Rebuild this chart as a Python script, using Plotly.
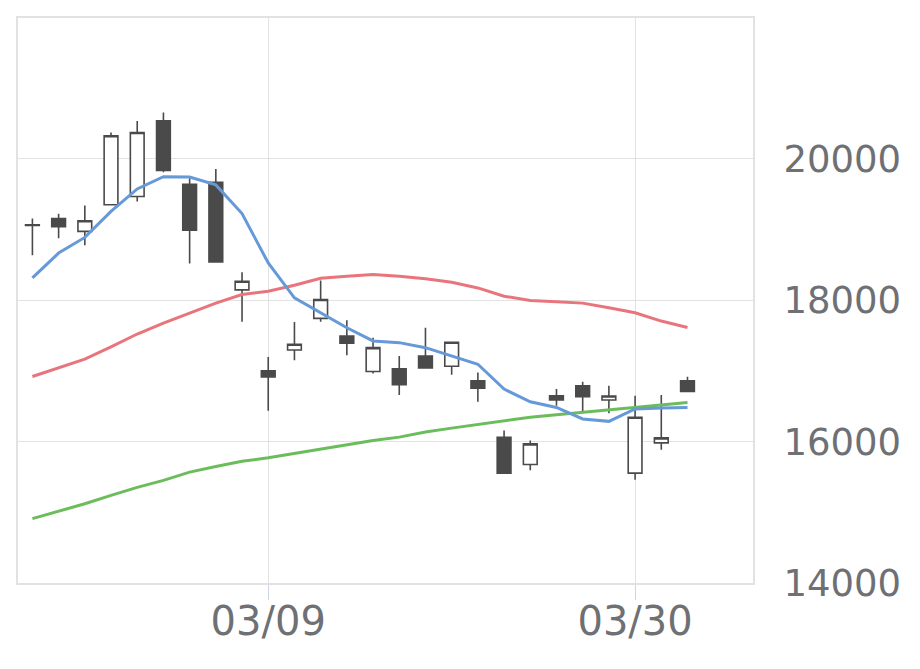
import plotly.graph_objects as go

# trading days (Feb 23 and Mar 20 are holidays)
dates = ["02/24", "02/25", "02/26", "02/27", "03/02", "03/03", "03/04", "03/05",
         "03/06", "03/09", "03/10", "03/11", "03/12", "03/13", "03/16", "03/17",
         "03/18", "03/19", "03/23", "03/24", "03/25", "03/26", "03/27", "03/30",
         "03/31", "04/01"]

opens = [19065, 19155, 18972, 19348, 19465, 20535, 19638, 19666, 18145, 17000,
         17296, 17742, 17493, 16990, 17028, 17211, 17066, 16859, 16061, 15676,
         16648, 16789, 16587, 15554, 15982, 16859]
highs = [19155, 19221, 19338, 20370, 20535, 20652, 19723, 19855, 18394, 17197,
         17690, 18277, 17714, 17469, 17211, 17610, 17404, 16976, 16155, 16014,
         16742, 16845, 16789, 16648, 16658, 16915]
lows = [18634, 18877, 18775, 19340, 19394, 19808, 18517, 18539, 17694, 16437,
        17150, 17694, 17220, 16962, 16658, 17042, 16944, 16563, 15554, 15596,
        16507, 16413, 16399, 15461, 15883, 16708]
closes = [19055, 19038, 19123, 20324, 20370, 19835, 18990, 18539, 18268, 16915,
          17376, 18010, 17390, 17328, 16803, 17042, 17404, 16756, 15554, 15968,
          16587, 16634, 16644, 16343, 16052, 16708]

ma_short = [18314, 18666, 18887, 19254, 19573, 19746, 19742, 19630, 19225, 18525,
            18032, 17821, 17610, 17423, 17399, 17328, 17211, 17094, 16742, 16563,
            16483, 16320, 16286, 16461, 16475, 16483]
ma_mid = [16920, 17042, 17165, 17338, 17521, 17676, 17821, 17958, 18080, 18127,
          18211, 18310, 18338, 18362, 18338, 18303, 18254, 18173, 18056, 17996,
          17979, 17958, 17892, 17821, 17704, 17613]
ma_long = [14911, 15014, 15120, 15239, 15352, 15451, 15568, 15648, 15723, 15770,
           15831, 15894, 15958, 16014, 16063, 16134, 16190, 16239, 16296, 16345,
           16380, 16415, 16451, 16479, 16514, 16554]

x_ticks = ["03/09", "03/30"]
y_ticks = [14000, 16000, 18000, 20000]

CANDLE = "#4a4a4a"
GRID = "#e2e2e2"
TEXT = "#6e7074"

fig = go.Figure()

fig.add_trace(go.Candlestick(
    x=dates, open=opens, high=highs, low=lows, close=closes,
    increasing=dict(line=dict(color=CANDLE, width=1.6), fillcolor="white"),
    decreasing=dict(line=dict(color=CANDLE, width=1.6), fillcolor=CANDLE),
    showlegend=False, hoverinfo="skip",
))

for vals, color in [(ma_mid, "#e8757c"), (ma_long, "#6bbd5b"), (ma_short, "#6699d8")]:
    fig.add_trace(go.Scatter(
        x=dates, y=vals, mode="lines",
        line=dict(color=color, width=3),
        showlegend=False, hoverinfo="skip",
    ))

# page body adds an 8px offset, so margins are trimmed to compensate
fig.update_layout(
    width=920, height=669,
    margin=dict(l=8, r=175, t=8, b=94),
    plot_bgcolor="white",
    paper_bgcolor="white",
    font=dict(family="DejaVu Sans", size=37, color=TEXT),
    boxgap=0.25,
)

fig.update_xaxes(
    type="category",
    categoryorder="array", categoryarray=dates,
    range=[-0.55, 27.5],
    tickvals=x_ticks, ticktext=x_ticks,
    tickfont=dict(size=40),
    ticks="outside", ticklen=15, tickcolor="#ccd6e4", tickwidth=1,
    ticklabelstandoff=-13,
    showgrid=True, gridcolor=GRID, gridwidth=1,
    showline=True, mirror=True, linecolor=GRID, linewidth=2,
    rangeslider=dict(visible=False),
    fixedrange=True,
)

fig.update_yaxes(
    side="right",
    range=[14000, 21990],
    tickvals=y_ticks, tickformat="d",
    ticks="outside", ticklen=21, tickcolor="rgba(0,0,0,0)",
    showgrid=True, gridcolor=GRID, gridwidth=1,
    showline=True, mirror=True, linecolor=GRID, linewidth=2,
    zeroline=False,
    fixedrange=True,
)

fig.write_html("out.html")
